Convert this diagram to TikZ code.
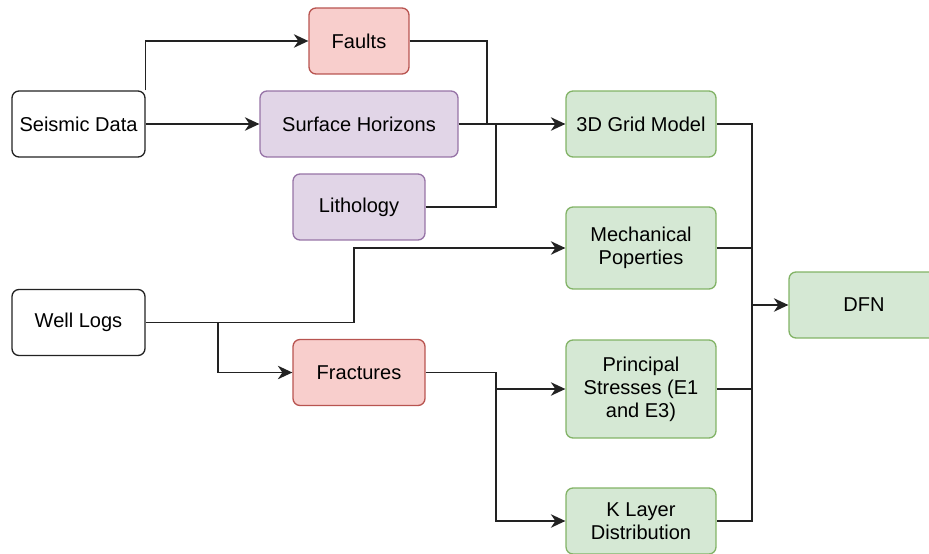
\documentclass[tikz,border=0pt]{standalone}
\usepackage{fontspec}
\setmainfont{Liberation Sans}
\usetikzlibrary{arrows.meta}

\definecolor{redfill}{HTML}{F8CECC}
\definecolor{reddraw}{HTML}{B85450}
\definecolor{purfill}{HTML}{E1D5E7}
\definecolor{purdraw}{HTML}{9673A6}
\definecolor{grnfill}{HTML}{D5E8D4}
\definecolor{grndraw}{HTML}{82B366}
\definecolor{linegray}{HTML}{222222}

\begin{document}
\begin{tikzpicture}[x=0.02cm,y=-0.02cm,
    font=\fontsize{11.4}{13.1}\selectfont,
    box/.style={draw=linegray,line width=0.75pt,rounded corners=0.14cm,
      align=center,inner sep=0pt,minimum height=1.32cm},
    src/.style={box,fill=white,minimum width=2.66cm},
    red/.style={box,fill=redfill,draw=reddraw},
    pur/.style={box,fill=purfill,draw=purdraw},
    grn/.style={box,fill=grnfill,draw=grndraw,minimum width=3cm},
    conn/.style={draw=linegray,line width=0.8pt},
    >={Stealth[length=2.9mm,width=2.7mm,inset=0.9mm]}]
  \useasboundingbox (0,0) rectangle (929,554);

  % inputs
  \node[src] (seismic) at (78.5,124) {Seismic Data};
  \node[src] (well) at (78.5,322.5) {Well Logs};

  % interpretations
  \node[red,minimum width=2cm] (faults) at (359,41) {Faults};
  \node[pur,minimum width=3.96cm] (horizons) at (359,124) {Surface Horizons};
  \node[pur,minimum width=2.64cm] (lithology) at (359,207) {Lithology};
  \node[red,minimum width=2.64cm] (fractures) at (359,372.5) {Fractures};

  % models
  \node[grn] (grid) at (641,124) {3D Grid Model};
  \node[grn,minimum height=1.64cm] (mech) at (641,248) {Mechanical\\Poperties};
  \node[grn,minimum height=1.96cm] (principal) at (641,389) {Principal\\Stresses (E1\\and E3)};
  \node[grn] (klayer) at (641,521) {K Layer\\Distribution};
  \node[grn] (dfn) at (864,305) {DFN};

  % bend points
  \coordinate (fa) at (487,0);
  \coordinate (li) at (496,0);
  \coordinate (wa) at (218,0);
  \coordinate (wb) at (354,0);
  \coordinate (fr) at (496,0);
  \coordinate (bus) at (752,0);

  \draw[conn,->] (seismic.north east) |- (faults.west);
  \draw[conn,->] (seismic.east) -- (horizons.west);

  \draw[conn] (faults.east) -| (fa |- grid.west);
  \draw[conn] (lithology.east) -| (li |- grid.west);
  \draw[conn,->] (horizons.east) -- (grid.west);

  \draw[conn,->] (well.east) -- (wb |- well.east) |- (mech.west);
  \draw[conn,->] (wa |- well.east) |- (fractures.west);

  \draw[conn,->] (fractures.east) -| (fr |- klayer.west) -- (klayer.west);
  \draw[conn,->] (fr |- principal.west) -- (principal.west);

  \draw[conn] (grid.east) -| (bus |- klayer.east) -- (klayer.east);
  \draw[conn] (mech.east) -- (bus |- mech.east);
  \draw[conn] (principal.east) -- (bus |- principal.east);
  \draw[conn,->] (bus |- dfn.west) -- (dfn.west);
\end{tikzpicture}
\end{document}
